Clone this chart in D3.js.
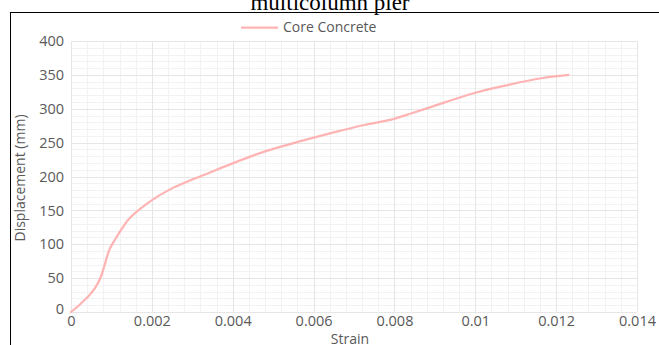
<!DOCTYPE html>
<html>
<head>
<meta charset="utf-8">
<script src="https://cdn.jsdelivr.net/npm/d3@7"></script>
<style>
  body { margin: 0; background: #fff; }
  svg { display: block; }
</style>
</head>
<body>
<svg id="chart"></svg>
<script>
// data
var strain = [0, 0.0002, 0.00041, 0.00058, 0.00074, 0.00082, 0.00095, 0.00109, 0.00128, 0.00146, 0.00195, 0.00245,
  0.00294, 0.00344, 0.00398, 0.0048, 0.00561, 0.00643, 0.00725, 0.00792, 0.00841, 0.00923, 0.01002,
  0.0108, 0.01163, 0.0123];
var displacement = [0, 10, 22, 34, 52, 67, 92, 107, 125, 139, 163, 181,
  194, 206, 219, 237, 251, 264, 276, 284, 293, 309, 324,
  335, 345, 350];
var xTicks = [0, 0.002, 0.004, 0.006, 0.008, 0.01, 0.012, 0.014];
var yTicks = [0, 50, 100, 150, 200, 250, 300, 350, 400];
var seriesName = "Core Concrete";

var width = 659, height = 345;
var svg = d3.select("#chart").attr("width", width).attr("height", height);

// plot box (note: "top" is reserved on window, so use pTop etc.)
var pLeft = 71, pRight = 637, pTop = 41, pBottom = 312;

var x = d3.scaleLinear().domain([0, 0.014]).range([pLeft, pRight]);
var y = d3.scaleLinear().domain([0, 400]).range([pBottom, pTop]);

// frame (only left and top edges are visible)
svg.append("line").attr("x1", 10.5).attr("x2", 10.5).attr("y1", 12).attr("y2", height)
  .attr("stroke", "#000");
svg.append("line").attr("x1", 10).attr("x2", width).attr("y1", 12.5).attr("y2", 12.5)
  .attr("stroke", "#000");

// title (cut off at top)
svg.append("text").attr("x", 330).attr("y", 10).attr("text-anchor", "middle")
  .attr("font-family", "Liberation Serif, Times New Roman, serif").attr("font-size", 23)
  .attr("fill", "#000").text("multicolumn pier");

// minor grid
var minorX = d3.range(0, 0.01400001, 0.0004);
var minorY = d3.range(0, 401, 10);
svg.append("g").selectAll("line").data(minorX).enter().append("line")
  .attr("x1", function (d) { return Math.round(x(d)) + 0.5; })
  .attr("x2", function (d) { return Math.round(x(d)) + 0.5; })
  .attr("y1", pTop).attr("y2", pBottom)
  .attr("stroke", "#f2f2f2");
svg.append("g").selectAll("line").data(minorY).enter().append("line")
  .attr("y1", function (d) { return Math.round(y(d)) + 0.5; })
  .attr("y2", function (d) { return Math.round(y(d)) + 0.5; })
  .attr("x1", pLeft).attr("x2", pRight)
  .attr("stroke", "#f2f2f2");

// major grid
svg.append("g").selectAll("line").data(xTicks).enter().append("line")
  .attr("x1", function (d) { return Math.round(x(d)) + 0.5; })
  .attr("x2", function (d) { return Math.round(x(d)) + 0.5; })
  .attr("y1", pTop).attr("y2", pBottom)
  .attr("stroke", "#e6e6e6");
svg.append("g").selectAll("line").data(yTicks).enter().append("line")
  .attr("y1", function (d) { return Math.round(y(d)) + 0.5; })
  .attr("y2", function (d) { return Math.round(y(d)) + 0.5; })
  .attr("x1", pLeft).attr("x2", pRight)
  .attr("stroke", "#e6e6e6");

// axes
var font = "Open Sans, Noto Sans, sans-serif";
var xAxis = svg.append("g").attr("transform", "translate(0," + pBottom + ")")
  .call(d3.axisBottom(x).tickValues(xTicks).tickSize(0).tickPadding(4)
    .tickFormat(function (d) { return d === 0 ? "0" : String(+d.toFixed(3)); }));
var yAxis = svg.append("g").attr("transform", "translate(" + pLeft + ",0)")
  .call(d3.axisLeft(y).tickValues(yTicks).tickSize(0).tickPadding(7));
[xAxis, yAxis].forEach(function (g) {
  g.select(".domain").remove();
  g.selectAll("text").attr("font-family", font).attr("font-size", 14.5).attr("fill", "#595959");
});
yAxis.selectAll("text").filter(function (d) { return d === 0; }).attr("dy", "0.1em");

// axis titles
svg.append("text").attr("x", 350).attr("y", 344).attr("text-anchor", "middle")
  .attr("font-family", font).attr("font-size", 14).attr("fill", "#595959").text("Strain");
svg.append("text").attr("transform", "translate(25," + 178 + ") rotate(-90)")
  .attr("text-anchor", "middle").attr("font-family", font).attr("font-size", 14)
  .attr("fill", "#595959").text("Displacement (mm)");

// series
var pts = strain.map(function (s, i) { return [s, displacement[i]]; });
var line = d3.line()
  .x(function (d) { return x(d[0]); })
  .y(function (d) { return y(d[1]); })
  .curve(d3.curveCatmullRom.alpha(0.5));
svg.append("path").datum(pts).attr("d", line)
  .attr("fill", "none").attr("stroke", "#ffb3b3").attr("stroke-width", 2.25)
  .attr("stroke-linejoin", "round").attr("stroke-linecap", "round");

// legend
svg.append("line").attr("x1", 241).attr("x2", 278).attr("y1", 27.5).attr("y2", 27.5)
  .attr("stroke", "#ffb3b3").attr("stroke-width", 2.25);
svg.append("text").attr("x", 283).attr("y", 32).attr("font-family", font).attr("font-size", 14)
  .attr("fill", "#595959").text(seriesName);
</script>
</body>
</html>
